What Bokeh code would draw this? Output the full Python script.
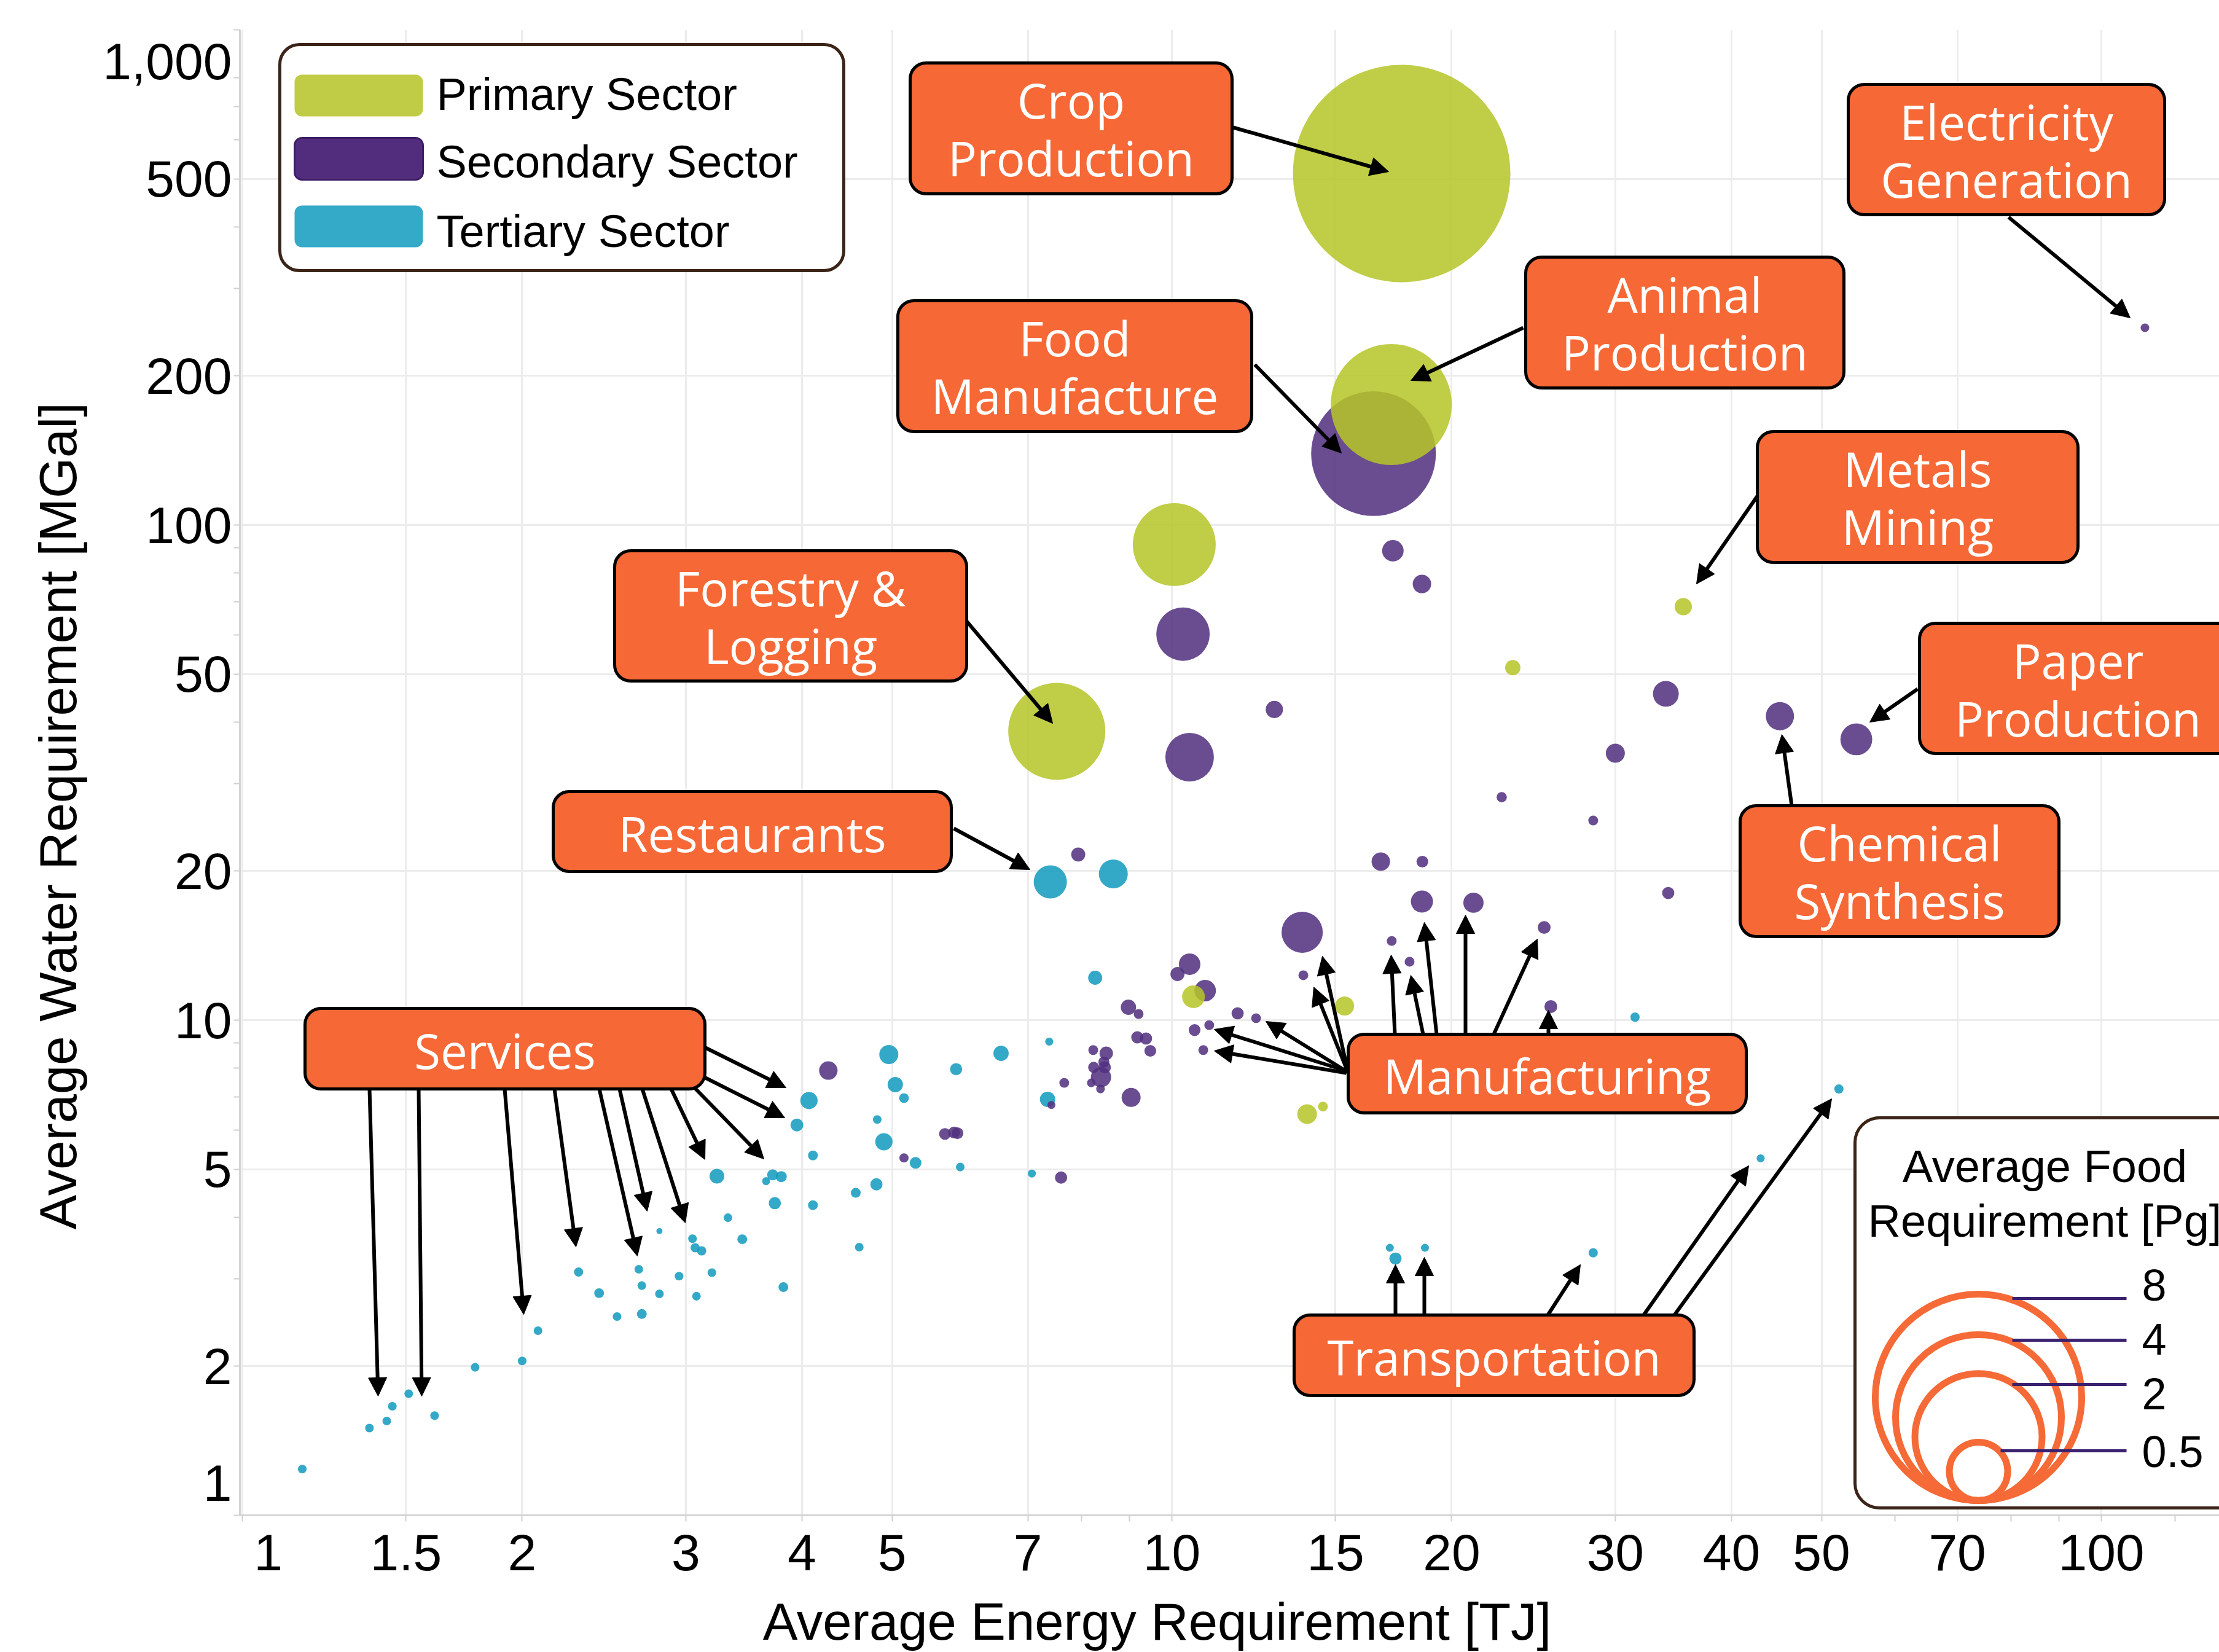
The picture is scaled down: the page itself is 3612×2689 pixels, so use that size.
import math
from bokeh.plotting import figure
from bokeh.models import (Range1d, FixedTicker, NumeralTickFormatter, Label,
                          BoxAnnotation, Arrow, NormalHead, ColumnDataSource)
from bokeh.embed import file_html
from bokeh.resources import INLINE

# ---------------- data (energy TJ, water MGal, food Pg) ----------------
PRIMARY_X = [17.67, 17.22, 10.06, 7.52, 35.5, 23.27, 10.55, 15.34, 13.98, 14.54]
PRIMARY_Y = [512.5, 175.1, 91.3, 38.3, 68.4, 51.5, 11.15, 10.68, 6.46, 6.69]
PRIMARY_FOOD = [8.88, 2.75, 1.29, 1.77, 0.056, 0.044, 0.097, 0.068, 0.073, 0.018]

SECONDARY_X = [16.48, 17.29, 18.58, 10.28, 10.45, 12.89, 34.0, 30.0, 45.1, 54.5,
               22.64, 28.4, 34.2, 7.93, 16.78, 18.6, 18.58, 21.11, 13.81, 25.15,
               17.24, 18.02, 13.85, 10.45, 10.14, 10.86, 8.98, 9.21, 11.77, 12.32,
               10.97, 10.58, 10.81, 9.18, 9.38, 9.48, 8.23, 8.50, 8.45, 8.24,
               8.47, 8.39, 8.19, 8.38, 7.66, 9.04, 7.42, 7.60, 4.27, 5.70,
               5.83, 5.88, 5.15, 111.4, 25.57]
SECONDARY_Y = [139.3, 88.7, 76.0, 60.2, 33.96, 42.4, 45.6, 34.6, 41.1, 36.9,
               28.2, 25.3, 18.06, 21.6, 20.9, 20.9, 17.36, 17.26, 15.05, 15.39,
               14.45, 13.12, 12.32, 12.97, 12.39, 11.47, 10.62, 10.29, 10.32, 10.09,
               9.77, 9.55, 8.70, 9.23, 9.18, 8.67, 8.70, 8.57, 8.23, 8.03,
               8.03, 7.67, 7.47, 7.26, 7.47, 6.98, 6.74, 4.81, 7.91, 5.89,
               5.93, 5.91, 5.27, 250.2, 10.65]
SECONDARY_FOOD = [2.92, 0.087, 0.064, 0.536, 0.442, 0.056, 0.125, 0.068, 0.15, 0.19,
                  0.020, 0.018, 0.028, 0.037, 0.064, 0.026, 0.092, 0.077, 0.318, 0.031,
                  0.018, 0.018, 0.018, 0.087, 0.037, 0.087, 0.044, 0.018, 0.028, 0.018,
                  0.018, 0.026, 0.018, 0.028, 0.028, 0.026, 0.018, 0.034, 0.023, 0.023,
                  0.028, 0.077, 0.014, 0.014, 0.018, 0.068, 0.012, 0.028, 0.064, 0.026,
                  0.026, 0.026, 0.016, 0.014, 0.031]

TERTIARY_X = [7.40, 8.65, 8.27, 7.38, 6.55, 5.86, 4.96, 5.04, 5.15, 4.07,
              3.95, 4.82, 4.90, 4.11, 5.30, 5.92, 3.24, 3.72, 3.80, 3.66,
              4.81, 4.57, 3.74, 4.11, 3.33, 2.81, 3.05, 3.45, 3.07, 3.12,
              4.61, 2.67, 2.95, 3.20, 2.69, 2.81, 3.08, 3.82, 2.69, 2.53,
              2.30, 2.42, 2.08, 2.00, 1.78, 1.51, 1.45, 1.43, 1.37, 1.61,
              1.16, 31.5, 52.2, 43.0, 28.4, 17.16, 17.40, 18.72, 7.35, 7.07]
TERTIARY_Y = [19.02, 19.74, 12.18, 9.05, 8.57, 7.96, 8.52, 7.41, 6.96, 6.88,
              6.14, 6.30, 5.68, 5.33, 5.15, 5.05, 4.84, 4.87, 4.83, 4.73,
              4.66, 4.48, 4.27, 4.23, 3.99, 3.75, 3.62, 3.61, 3.47, 3.42,
              3.48, 3.14, 3.04, 3.09, 2.91, 2.80, 2.77, 2.89, 2.55, 2.52,
              3.10, 2.81, 2.36, 2.05, 1.99, 1.76, 1.66, 1.55, 1.50, 1.59,
              1.24, 10.14, 7.26, 5.26, 3.39, 3.47, 3.30, 3.47, 6.92, 4.90]
TERTIARY_FOOD = [0.207, 0.157, 0.037, 0.012, 0.044, 0.028, 0.068, 0.044, 0.018, 0.056,
                 0.031, 0.014, 0.056, 0.018, 0.026, 0.014, 0.041, 0.023, 0.023, 0.012,
                 0.028, 0.018, 0.028, 0.018, 0.014, 0.007, 0.014, 0.018, 0.016, 0.016,
                 0.014, 0.014, 0.014, 0.014, 0.014, 0.014, 0.014, 0.018, 0.018, 0.014,
                 0.016, 0.018, 0.014, 0.014, 0.014, 0.014, 0.014, 0.014, 0.014, 0.014,
                 0.014, 0.016, 0.016, 0.012, 0.016, 0.012, 0.028, 0.012, 0.044, 0.012]

SECTORS = ["Primary Sector", "Secondary Sector", "Tertiary Sector"]
X_TICKS = [1, 1.5, 2, 3, 4, 5, 7, 10, 15, 20, 30, 40, 50, 70, 100]
X_TICK_LABELS = ["1", "1.5", "2", "3", "4", "5", "7", "10", "15", "20", "30",
                 "40", "50", "70", "100"]
Y_TICKS = [1, 2, 5, 10, 20, 50, 100, 200, 500, 1000]
Y_TICK_LABELS = ["1", "2", "5", "10", "20", "50", "100", "200", "500", "1,000"]
SIZE_LEGEND_VALUES = ["8", "4", "2", "0.5"]
X_TITLE = "Average Energy Requirement [TJ]"
Y_TITLE = "Average Water Requirement [MGal]"

# ---------------- layout helpers (reference pixel -> data) ----------------
X0, XD, Y0, YD = 394.0, 1513.0, 2466.0, 806.0


def dx(px):
    return 10 ** ((px - X0) / XD)


def dy(py):
    return 10 ** ((Y0 - py) / YD)


def food_to_size(f):
    return 336.0 * math.sqrt(f / 8.0)


p = figure(width=3612, height=2689, x_axis_type="log", y_axis_type="log",
           x_range=Range1d(dx(390), dx(3612)), y_range=Range1d(1, 1000),
           output_backend="svg", toolbar_location=None,
           min_border_left=390, min_border_right=0, min_border_top=48,
           min_border_bottom=223)
p.outline_line_color = None
p.background_fill_color = "white"

TICK_FONT = "Liberation Sans"
for ax in (p.xaxis[0], p.yaxis[0]):
    ax.axis_line_color = "#d4d4d4"
    ax.axis_line_width = 3
    ax.major_tick_line_color = None
    ax.major_tick_out = 0
    ax.major_tick_in = 0
    ax.minor_tick_line_color = "#d0d0d0"
    ax.minor_tick_line_width = 2
    ax.minor_tick_out = 10
    ax.minor_tick_in = 0
    ax.major_label_text_font = TICK_FONT
    ax.major_label_text_font_size = "84px"
    ax.major_label_text_color = "black"
    ax.axis_label_text_font = TICK_FONT
    ax.axis_label_text_font_size = "85px"
    ax.axis_label_text_font_style = "normal"
    ax.axis_label_text_color = "black"
    ax.formatter = NumeralTickFormatter(format="0,0.[0]")

# end labels of both axes are nudged inwards in the reference
x_label_pos = [dx(436)] + X_TICKS[1:]
y_label_pos = [dy(2413)] + Y_TICKS[1:-1] + [dy(99)]
p.xaxis.ticker = FixedTicker(ticks=x_label_pos,
                             minor_ticks=X_TICKS + [8, 9, 60, 80, 90, 120])
p.yaxis.ticker = FixedTicker(ticks=y_label_pos,
                             minor_ticks=Y_TICKS + [3, 4, 6, 7, 8, 9, 30, 40, 60, 70,
                                                    80, 90, 300, 400, 600, 700, 800])
p.xaxis.major_label_overrides = {pos: t for pos, t in zip(x_label_pos, X_TICK_LABELS)}
p.yaxis.major_label_overrides = {pos: t for pos, t in zip(y_label_pos, Y_TICK_LABELS)}
p.xaxis.major_label_standoff = 21
p.yaxis.major_label_standoff = 3

NB = "\u00a0"
p.xaxis.axis_label = X_TITLE + NB * 10
p.yaxis.axis_label = Y_TITLE + NB * 6
p.xaxis.axis_label_standoff = 33
p.yaxis.axis_label_standoff = 22

for g in (p.xgrid[0], p.ygrid[0]):
    g.grid_line_color = "#ececec"
    g.grid_line_width = 3
p.xgrid.ticker = FixedTicker(ticks=X_TICKS)
p.ygrid.ticker = FixedTicker(ticks=Y_TICKS)


def label(px, py, text, size, color="black", font="Liberation Sans",
          align="center", angle=0.0, xoff=0):
    p.add_layout(Label(x=dx(px), y=dy(py), text=text, text_font=font,
                       text_font_size=f"{size}px", text_color=color,
                       text_align=align, text_baseline="middle", angle=angle,
                       x_offset=xoff))


def box(l, t, r, b, fill, line, lw, radius, level="annotation"):
    p.add_layout(BoxAnnotation(left=dx(l), right=dx(r), top=dy(t), bottom=dy(b),
                               fill_color=fill, fill_alpha=1.0, line_color=line,
                               line_alpha=1.0, line_width=lw, border_radius=radius,
                               level=level))


# ---------------- legend backgrounds (under glyphs) ----------------
box(455, 72, 1373, 440, "white", "#3b2418", 5, 32, level="underlay")
box(3019, 1819, 3720, 2454, "white", "#3b2418", 5, 40, level="underlay")

# ---------------- bubbles ----------------
COLORS = {"Primary Sector": "#B6C528", "Secondary Sector": "#51307F",
          "Tertiary Sector": "#139BBE"}
series = [("Tertiary Sector", TERTIARY_X, TERTIARY_Y, TERTIARY_FOOD),
          ("Secondary Sector", SECONDARY_X, SECONDARY_Y, SECONDARY_FOOD),
          ("Primary Sector", PRIMARY_X, PRIMARY_Y, PRIMARY_FOOD)]
for name, xs, ys, fs in series:
    src = ColumnDataSource(dict(x=xs, y=ys, food=fs,
                                size=[food_to_size(f) for f in fs]))
    p.scatter("x", "y", size="size", source=src, fill_color=COLORS[name],
              fill_alpha=0.86, line_color=None)

# ---------------- sector legend ----------------
SWATCH = {"Primary Sector": ("#C0CC46", None),
          "Secondary Sector": ("#522D7D", "#3c1f66"),
          "Tertiary Sector": ("#35AAC8", None)}
rows = [(121, 189, 153), (224, 292, 263), (334, 402, 376)]
for name, (t, b, ty) in zip(SECTORS, rows):
    fc, lc = SWATCH[name]
    box(479, t, 688, b, fc, lc, 3 if lc else 0, 12)
    label(710, ty, name, 74, align="left")

# ---------------- size legend ----------------
legend_d = [336, 270, 207, 95]
lbl_y = [2091, 2179, 2268, 2362]
line_y = [2113, 2181, 2253, 2361]
line_x0 = [3275, 3275, 3275, 3256]
circ_bottom = 2442
p.scatter([dx(3220)] * 4, [dy(circ_bottom - d / 2) for d in legend_d],
          size=legend_d, fill_alpha=0, line_color="#F56A36", line_width=11)
p.segment(x0=[dx(v) for v in line_x0], y0=[dy(v) for v in line_y],
          x1=[dx(3461)] * 4, y1=[dy(v) for v in line_y],
          line_color="#3b2270", line_width=5)
for txt, yy in zip(SIZE_LEGEND_VALUES, lbl_y):
    label(3486, yy, txt, 72, align="left")
label(3328, 1898, "Average Food", 74)
label(3328, 1987, "Requirement [Pg]", 74)

# ---------------- arrows ----------------
ARROWS = [
    ((2007, 207), (2260, 279)), ((3269, 353), (3467, 517)),
    ((2479, 533), (2296, 619)), ((2042, 593), (2183, 737)),
    ((2860, 807), (2761, 950)), ((1569, 1006), (1713, 1177)),
    ((1552, 1348), (1676, 1415)), ((3121, 1121), (3043, 1175)),
    ((2916, 1311), (2900, 1195)),
    # services
    ((601, 1772), (615, 2272)), ((681, 1772), (686, 2272)),
    ((821, 1772), (852, 2139)), ((902, 1772), (937, 2029)),
    ((975, 1772), (1037, 2044)), ((1008, 1772), (1053, 1971)),
    ((1045, 1772), (1115, 1990)), ((1092, 1772), (1147, 1887)),
    ((1130, 1770), (1243, 1886)), ((1146, 1753), (1277, 1819)),
    ((1148, 1705), (1279, 1770)),
    # manufacturing
    ((2191, 1746), (1976, 1710)), ((2189, 1742), (1976, 1675)),
    ((2189, 1742), (2060, 1662)), ((2194, 1746), (2138, 1606)),
    ((2194, 1746), (2152, 1556)), ((2270, 1683), (2264, 1554)),
    ((2316, 1683), (2296, 1587)), ((2338, 1683), (2318, 1501)),
    ((2385, 1683), (2385, 1489)), ((2431, 1683), (2502, 1528)),
    ((2520, 1683), (2520, 1644)),
    # transportation
    ((2271, 2140), (2271, 2058)), ((2318, 2140), (2318, 2046)),
    ((2519, 2140), (2572, 2058)), ((2675, 2140), (2846, 1897)),
    ((2725, 2140), (2981, 1788)),
]
for (sx, sy), (ex, ey) in ARROWS:
    p.add_layout(Arrow(x_start=dx(sx), y_start=dy(sy), x_end=dx(ex), y_end=dy(ey),
                       line_color="black", line_width=6,
                       end=NormalHead(size=30, fill_color="black",
                                      line_color="black", line_width=1)))

# ---------------- callout boxes ----------------
CALLOUTS = [
    (1481, 102, 2005, 315, ["Crop", "Production"]),
    (3008, 137, 3523, 349, ["Electricity", "Generation"]),
    (2483, 418, 3001, 631, ["Animal", "Production"]),
    (1461, 489, 2037, 702, ["Food", "Manufacture"]),
    (2860, 702, 3382, 915, ["Metals", "Mining"]),
    (1000, 896, 1573, 1108, ["Forestry &", "Logging"]),
    (3124, 1014, 3640, 1226, ["Paper", "Production"]),
    (2832, 1311, 3351, 1524, ["Chemical", "Synthesis"]),
    (900, 1288, 1548, 1418, ["Restaurants"]),
    (496, 1641, 1147, 1772, ["Services"]),
    (2194, 1683, 2842, 1811, ["Manufacturing"]),
    (2106, 2140, 2757, 2271, ["Transportation"]),
]
for l, t, r, b, lines in CALLOUTS:
    box(l, t, r, b, "#F66836", "black", 5, 26)
    cx = (l + r) / 2
    cy = (t + b) / 2
    if len(lines) == 2:
        label(cx, cy - 46, lines[0], 78, color="white", font="Open Sans")
        label(cx, cy + 48, lines[1], 78, color="white", font="Open Sans")
    else:
        label(cx, cy + 3, lines[0], 78, color="white", font="Open Sans")

open("out.html", "w").write(file_html(p, INLINE))
